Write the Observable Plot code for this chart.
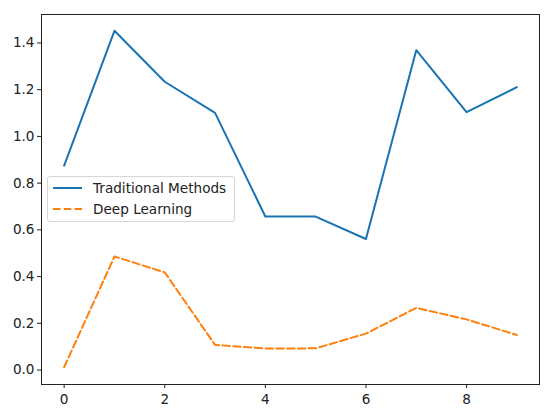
<!DOCTYPE html>
<html>
<head>
<meta charset="utf-8">
<script src="https://cdn.jsdelivr.net/npm/d3@7"></script>
<script src="https://cdn.jsdelivr.net/npm/@observablehq/plot@0.6"></script>
<style>
  body { margin: 0; background: white; }
  #chart { position: relative; width: 550px; height: 418px; font-family: "DejaVu Sans", sans-serif; }
  #legend {
    position: absolute; left: 47px; top: 176px; width: 186px; height: 44px;
    border: 1px solid #d6d6d6; border-radius: 3px; background: rgba(255,255,255,0.8);
    font-size: 13.6px; color: #222;
  }
  .row { position: absolute; left: 0; height: 20px; display: flex; align-items: center; }
  .row svg { margin-left: 5px; margin-right: 11px; }
</style>
</head>
<body>
<div id="chart"></div>
<script>
const steps = [0, 1, 2, 3, 4, 5, 6, 7, 8, 9];
const traditional = [0.875, 1.452, 1.234, 1.101, 0.657, 0.657, 0.561, 1.369, 1.104, 1.211];
const deepLearning = [0.012, 0.486, 0.418, 0.108, 0.092, 0.093, 0.156, 0.266, 0.217, 0.15];
const yTicks = [0, 0.2, 0.4, 0.6, 0.8, 1.0, 1.2, 1.4];
const xTicks = [0, 2, 4, 6, 8];

const blue = "#1a73b2";
const orange = "#ff7f0e";

const trad = steps.map((s, i) => ({x: s, y: traditional[i]}));
const deep = steps.map((s, i) => ({x: s, y: deepLearning[i]}));

let chart = Plot.plot({
  width: 550,
  height: 418,
  marginLeft: 41,
  marginRight: 11,
  marginTop: 14,
  marginBottom: 34,
  style: {
    "font-size": "13.6px",
    "font-family": "DejaVu Sans",
    color: "#222",
    background: "white",
  },
  x: { domain: [-0.45, 9.45], label: null },
  y: { domain: [-0.0618, 1.5218], label: null },
  marks: [
    Plot.frame({ stroke: "#222", strokeWidth: 1 }),
    Plot.axisX({ ticks: xTicks, tickSize: 4, tickPadding: 6, tickFormat: "d", label: null }),
    Plot.axisY({ ticks: yTicks, tickSize: 4, tickPadding: 3, tickFormat: ".1f", label: null }),
    Plot.line(trad, { x: "x", y: "y", stroke: blue, strokeWidth: 2 }),
    Plot.line(deep, { x: "x", y: "y", stroke: orange, strokeWidth: 2, strokeDasharray: "7.5,3.3" }),
  ],
});

d3.select("#chart").append(() => chart);

// legend like matplotlib's box
const legend = d3.select("#chart").append("div").attr("id", "legend");
const items = [
  { label: "Traditional Methods", color: blue, dash: null },
  { label: "Deep Learning", color: orange, dash: "7.5,3.3" },
];
items.forEach((d, i) => {
  const row = legend.append("div").attr("class", "row").style("top", (1 + i * 21) + "px");
  const s = row.append("svg").attr("width", 29).attr("height", 4);
  s.append("line").attr("x1", 0).attr("x2", 29).attr("y1", 2).attr("y2", 2)
    .attr("stroke", d.color).attr("stroke-width", 2)
    .attr("stroke-dasharray", d.dash);
  row.append("span").text(d.label);
});
</script>
</body>
</html>
